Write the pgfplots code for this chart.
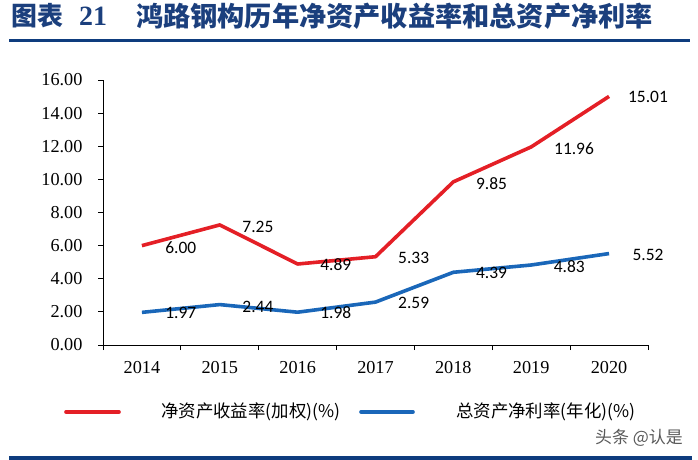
\documentclass[border=0pt]{standalone}
\usepackage{fontspec}
\usepackage{pgfplots}
\pgfplotsset{compat=1.18}
\setmainfont{Liberation Serif}
\newfontfamily\calibri{Carlito}
\newfontfamily\cjk{Noto Sans CJK SC}
\definecolor{titleblue}{HTML}{1B3F7D}
\definecolor{ruleblue}{HTML}{0E3C7E}
\definecolor{roered}{HTML}{E41F26}
\definecolor{roablue}{HTML}{1A67B9}
\pgfplotstableread{
x roe roa
0 6.00 1.97
1 7.25 2.44
2 4.89 1.98
3 5.33 2.59
4 9.85 4.39
5 11.96 4.83
6 15.01 5.52
}\datatable
\begin{document}
\begin{tikzpicture}
\path[use as bounding box] (0bp,0bp) rectangle (698bp,460bp);
% title
\node[anchor=west,inner sep=0pt,text=titleblue] at (11bp,444bp) {\fontsize{26}{30}\selectfont\cjk\bfseries 图表};
\node[anchor=west,inner sep=0pt,text=titleblue] at (79bp,444bp) {\fontsize{28}{30}\selectfont\bfseries 21};
\node[anchor=west,inner sep=0pt,text=titleblue] at (136bp,444bp) {\fontsize{27.3}{30}\selectfont\cjk\bfseries 鸿路钢构历年净资产收益率和总资产净利率};
\fill[ruleblue] (9bp,417.5bp) rectangle (690bp,421bp);
\fill[ruleblue] (9bp,0bp) rectangle (692bp,4bp);
\begin{axis}[
  at={(103bp,115bp)}, anchor=south west,
  scale only axis, width=545bp, height=265bp,
  xmin=-0.5, xmax=6.5, ymin=0, ymax=16,
  axis x line=bottom, axis y line=left,
  axis line style={-, black, line width=0.8pt},
  xtick={0,...,6},
  xticklabels={2014,2015,2016,2017,2018,2019,2020},
  minor xtick={-0.5,0.5,...,6.5},
  major x tick style={draw=none},
  minor x tick style={black, line width=0.8pt},
  minor tick length=5bp,
  major tick length=5bp,
  tick align=outside,
  ytick={0,2,...,16},
  y tick style={black, line width=0.8pt},
  y tick label style={/pgf/number format/fixed, /pgf/number format/fixed zerofill, /pgf/number format/precision=2},
  /pgf/number format/assume math mode=true,
  tick label style={font=\fontsize{18.3}{20}\selectfont},
  x tick label style={yshift=-8bp},
  y tick label style={xshift=-12bp},
  clip=false,
]
\addplot[roered, line width=3.6bp, line join=round] table[x=x,y=roe] {\datatable};
\addplot[roablue, line width=3.6bp, line join=round] table[x=x,y=roa] {\datatable};
\begin{scope}[every node/.style={font=\calibri\fontsize{17.5}{20}\selectfont, inner sep=0pt}]
\node at (axis cs:0.50,5.86) {6.00};
\node at (axis cs:1.49,7.12) {7.25};
\node at (axis cs:2.49,4.83) {4.89};
\node at (axis cs:3.49,5.25) {5.33};
\node at (axis cs:4.49,9.72) {9.85};
\node at (axis cs:5.55,11.83) {11.96};
\node at (axis cs:6.50,14.97) {15.01};
\node at (axis cs:0.50,1.93) {1.97};
\node at (axis cs:1.49,2.29) {2.44};
\node at (axis cs:2.49,1.93) {1.98};
\node at (axis cs:3.49,2.54) {2.59};
\node at (axis cs:4.49,4.35) {4.39};
\node at (axis cs:5.49,4.71) {4.83};
\node at (axis cs:6.50,5.43) {5.52};
\end{scope}
\end{axis}
% legend
\draw[roered, line width=3.6bp, line cap=round] (66bp,48bp) -- (119bp,48bp);
\node[anchor=west,inner sep=0pt] at (161bp,48bp) {\fontsize{17.5}{20}\selectfont\cjk 净资产收益率(加权)(\%)};
\draw[roablue, line width=3.6bp, line cap=round] (361bp,48bp) -- (413bp,48bp);
\node[anchor=west,inner sep=0pt] at (456bp,48bp) {\fontsize{17.5}{20}\selectfont\cjk 总资产净利率(年化)(\%)};
\node[anchor=center,inner sep=0pt,text=black!65] at (639bp,22bp) {\fontsize{17}{20}\selectfont\cjk 头条 @认是};
\end{tikzpicture}
\end{document}
